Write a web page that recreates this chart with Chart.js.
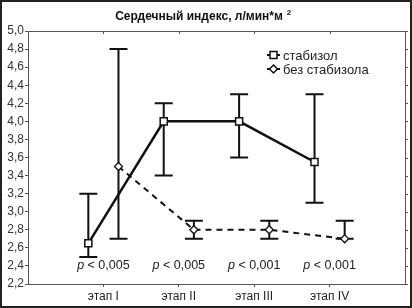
<!DOCTYPE html>
<html lang="ru">
<head>
  <meta charset="UTF-8" />
  <title>Сердечный индекс</title>
  <script src="https://cdn.jsdelivr.net/npm/chart.js@4.4.0/dist/chart.umd.min.js"></script>
  <style>
    html, body { margin: 0; padding: 0; background: #fff; }
    #wrap { width: 412px; height: 308px; position: relative; }
  </style>
</head>
<body>
  <div id="wrap"><canvas id="ciChart" width="412" height="308"></canvas></div>

  <script>
    // --- data ---
    const stages = ['этап I', 'этап II', 'этап III', 'этап IV'];
    const stabMean = [2.65, 4.0, 4.0, 3.55];
    const stabLow = [2.5, 3.4, 3.6, 3.1];
    const stabHigh = [3.2, 4.2, 4.3, 4.3];
    const noStabMean = [3.5, 2.8, 2.8, 2.7];
    const noStabLow = [2.7, 2.7, 2.7, 2.7];
    const noStabHigh = [4.8, 2.9, 2.9, 2.9];
    const pValues = ['< 0,005', '< 0,005', '< 0,001', '< 0,001'];
    const yTicks = { min: 2.2, max: 5.0, step: 0.2 };

    const INK = '#111';
    const AXIS = '#555';
    const FONT = '"Liberation Sans", Arial, sans-serif';
    const SHIFT = 0.2; // horizontal offset of the two groups

    const stabPoints = stabMean.map((v, i) => ({ x: i + 1 - SHIFT, y: v, lo: stabLow[i], hi: stabHigh[i] }));
    const noStabPoints = noStabMean.map((v, i) => ({ x: i + 1 + SHIFT, y: v, lo: noStabLow[i], hi: noStabHigh[i] }));

    // error bars, drawn under the markers
    const errorBars = {
      id: 'errorBars',
      beforeDatasetsDraw(chart) {
        const { ctx, scales: { x, y } } = chart;
        ctx.save();
        ctx.strokeStyle = INK;
        ctx.lineWidth = 2;
        chart.data.datasets.forEach(ds => {
          ds.data.forEach(p => {
            const px = x.getPixelForValue(p.x);
            const top = y.getPixelForValue(p.hi);
            const bot = y.getPixelForValue(p.lo);
            ctx.beginPath();
            ctx.moveTo(px, top); ctx.lineTo(px, bot);
            ctx.moveTo(px - 9, top); ctx.lineTo(px + 9, top);
            ctx.moveTo(px - 9, bot); ctx.lineTo(px + 9, bot);
            ctx.stroke();
          });
        });
        ctx.restore();
      }
    };

    // frame, title, p-values and legend
    const decorations = {
      id: 'decorations',
      afterDraw(chart) {
        const { ctx, chartArea: a, scales: { x, y } } = chart;
        ctx.save();

        // plot box and the ticks on top/right
        ctx.strokeStyle = AXIS;
        ctx.lineWidth = 1;
        ctx.strokeRect(Math.round(a.left) + 0.5, Math.round(a.top) + 0.5, Math.round(a.right - a.left), Math.round(a.bottom - a.top));
        ctx.beginPath();
        x.ticks.forEach(t => {
          const px = Math.round(x.getPixelForValue(t.value)) + 0.5;
          ctx.moveTo(px, a.top); ctx.lineTo(px, a.top + 3);
        });
        y.ticks.forEach(t => {
          const py = Math.round(y.getPixelForValue(t.value)) + 0.5;
          ctx.moveTo(a.right, py); ctx.lineTo(a.right + 3, py);
        });
        ctx.stroke();

        // outer frame of the picture
        ctx.strokeStyle = '#222';
        ctx.lineWidth = 2;
        ctx.strokeRect(1, 1, chart.width - 2, chart.height - 2);

        // title
        ctx.fillStyle = INK;
        ctx.textBaseline = 'alphabetic';
        ctx.font = 'bold 12px ' + FONT;
        const title = 'Сердечный индекс, л/мин*м';
        const tw = ctx.measureText(title).width;
        const tx = 204 - (tw + 10) / 2;
        ctx.textAlign = 'left';
        ctx.fillText(title, tx, 20);
        ctx.font = 'bold 8px ' + FONT;
        ctx.fillText('2', tx + tw + 4, 15);

        // p-values under each stage
        const py = y.getPixelForValue(2.41) + 4;
        pValues.forEach((txt, i) => {
          const cx = x.getPixelForValue(i + 1);
          ctx.fillStyle = '#222';
          ctx.font = '12.5px ' + FONT;
          const w2 = ctx.measureText(' ' + txt).width;
          ctx.font = 'italic 12.5px ' + FONT;
          const w1 = ctx.measureText('p').width;
          const sx = cx - (w1 + w2) / 2;
          ctx.fillText('p', sx, py);
          ctx.font = '12.5px ' + FONT;
          ctx.fillText(' ' + txt, sx + w1, py);
        });

        // legend
        const rows = [
          { label: chart.data.datasets[0].label, style: 'rect' },
          { label: chart.data.datasets[1].label, style: 'rectRot' }
        ];
        rows.forEach((r, i) => {
          const ly = 55 + i * 14;
          ctx.strokeStyle = INK;
          ctx.lineWidth = 2;
          ctx.beginPath();
          ctx.moveTo(267, ly); ctx.lineTo(280, ly);
          ctx.stroke();
          ctx.fillStyle = '#fff';
          ctx.lineWidth = 1.5;
          ctx.beginPath();
          if (r.style === 'rect') {
            ctx.rect(270, ly - 3.5, 7, 7);
          } else {
            ctx.moveTo(273.5, ly - 4); ctx.lineTo(277.5, ly); ctx.lineTo(273.5, ly + 4); ctx.lineTo(269.5, ly);
            ctx.closePath();
          }
          ctx.fill(); ctx.stroke();
          ctx.fillStyle = '#222';
          ctx.font = '13px ' + FONT;
          ctx.textBaseline = 'middle';
          ctx.fillText(r.label, 283, ly + 1);
        });
        ctx.restore();
      }
    };

    new Chart(document.getElementById('ciChart'), {
      type: 'scatter',
      data: {
        datasets: [
          {
            label: 'стабизол',
            data: stabPoints,
            showLine: true,
            borderColor: INK,
            borderWidth: 2.5,
            pointStyle: 'rect',
            pointRadius: 5,
            pointBackgroundColor: '#fff',
            pointBorderColor: INK,
            pointBorderWidth: 1.5
          },
          {
            label: 'без стабизола',
            data: noStabPoints,
            showLine: true,
            borderColor: INK,
            borderWidth: 2,
            borderDash: [6, 5],
            pointStyle: 'rectRot',
            pointRadius: 4,
            pointBackgroundColor: '#fff',
            pointBorderColor: INK,
            pointBorderWidth: 1.3
          }
        ]
      },
      options: {
        responsive: false,
        animation: false,
        layout: { padding: { top: 31, right: 7, left: 0, bottom: 0 } },
        plugins: {
          legend: { display: false },
          title: { display: false },
          tooltip: { enabled: false }
        },
        scales: {
          x: {
            type: 'linear',
            min: 0,
            max: 5,
            afterBuildTicks: s => { s.ticks = stages.map((_, i) => ({ value: i + 1 })); },
            afterFit: s => { s.height = 24; },
            ticks: {
              callback: v => stages[v - 1],
              color: '#222',
              font: { family: FONT, size: 12 },
              padding: 2,
              maxRotation: 0
            },
            grid: { drawOnChartArea: false, tickLength: 3, color: AXIS },
            border: { color: AXIS }
          },
          y: {
            min: yTicks.min,
            max: yTicks.max,
            afterFit: s => { s.width = 28; },
            ticks: {
              stepSize: yTicks.step,
              callback: v => v.toFixed(1).replace('.', ','),
              color: '#333',
              font: { family: FONT, size: 12 },
              padding: 1
            },
            grid: { drawOnChartArea: false, tickLength: 3, color: AXIS },
            border: { color: AXIS }
          }
        }
      },
      plugins: [errorBars, decorations]
    });
  </script>
</body>
</html>
